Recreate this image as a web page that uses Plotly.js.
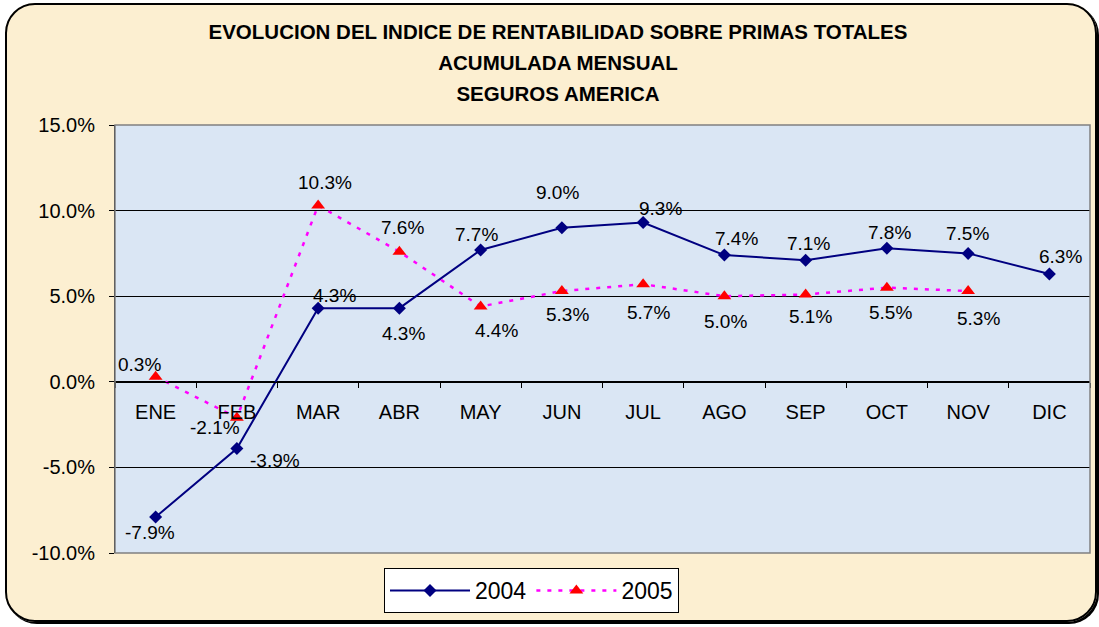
<!DOCTYPE html>
<html><head><meta charset="utf-8">
<script src="https://cdn.plot.ly/plotly-3.0.1.min.js"></script>
<style>
html,body{margin:0;padding:0;background:#fff;}
#wrap{position:relative;width:1099px;height:627px;overflow:hidden;}
#chart{position:absolute;left:0;top:0;width:1099px;height:627px;}
#frame{position:absolute;left:5px;top:3px;width:1088px;height:615px;border:2px solid #000;border-radius:30px;box-shadow:2px 2px 0 0 #000, 0 0 0 60px #fff;pointer-events:none;}
</style></head>
<body>
<div id="wrap"><div id="chart"></div><div id="frame"></div></div>
<script>
// ---- data ----
var months = ['ENE','FEB','MAR','ABR','MAY','JUN','JUL','AGO','SEP','OCT','NOV','DIC'];
var months2005 = ['ENE','FEB','MAR','ABR','MAY','JUN','JUL','AGO','SEP','OCT','NOV'];
var values2004 = [-7.9, -3.9, 4.3, 4.3, 7.7, 9.0, 9.3, 7.4, 7.1, 7.8, 7.5, 6.3];
var values2005 = [0.3, -2.1, 10.3, 7.6, 4.4, 5.3, 5.7, 5.0, 5.1, 5.5, 5.3];
var seriesNames = ['2004', '2005'];
var titleLines = ['EVOLUCION DEL INDICE DE RENTABILIDAD SOBRE PRIMAS TOTALES', 'ACUMULADA MENSUAL', 'SEGUROS AMERICA'];
var yTicks = [-10, -5, 0, 5, 10, 15];

// ---- label offsets (style, px; dy positive = down) ----
var off2004 = [[-6,15],[38,12],[16,-13],[4,25],[-4,-15],[-4,-35],[17,-14],[12,-17],[3,-17],[3,-16],[-1,-20],[11,-17]];
var off2005 = [[-16,-12],[-22,10],[7,-23],[3,-24],[16,24],[6,23],[5,28],[1,25],[5,22],[4,25],[10,27]];

var FONT = 'Liberation Sans, Arial, sans-serif';

var traces = [
  {x: months, y: values2004, name: seriesNames[0], type: 'scatter', mode: 'lines+markers',
   line: {color: '#000080', width: 2}, marker: {symbol: 'diamond', size: 10, color: '#000080'}},
  {x: months2005, y: values2005, name: seriesNames[1], type: 'scatter', mode: 'lines+markers',
   line: {color: '#ff00ff', width: 2.5, dash: '4px,7px'}, marker: {symbol: 'triangle-up', size: 12, color: '#ff0000'}}
];

var annotations = [];
function addLabels(xs, ys, offs) {
  for (var i = 0; i < xs.length; i++) {
    annotations.push({x: xs[i], y: ys[i], xref: 'x', yref: 'y', text: ys[i].toFixed(1) + '%',
      showarrow: false, xshift: offs[i][0], yshift: -offs[i][1],
      font: {family: FONT, size: 19, color: '#000'}});
  }
}
addLabels(months, values2004, off2004);
addLabels(months2005, values2005, off2005);

var layout = {
  width: 1099, height: 627,
  margin: {l: 115, r: 9, t: 125, b: 74},
  paper_bgcolor: '#fcefd1',
  plot_bgcolor: '#dae6f4',
  font: {family: FONT, color: '#000'},
  title: {
    text: titleLines.map(function(s){return '<span style="font-size:20.5px">' + s + '</span>';}).join('<br>'),
    font: {family: FONT, size: 24, weight: 'bold', color: '#000'},
    x: 558/1099, xref: 'container', xanchor: 'center',
    y: 1 - 39/627, yref: 'container', yanchor: 'top'
  },
  xaxis: {
    type: 'category', range: [-0.5, 11.5], anchor: 'free', position: 0.4,
    showline: true, linecolor: '#000', linewidth: 1,
    ticks: 'outside', tickson: 'boundaries', ticklen: 5, tickcolor: '#000',
    ticklabelstandoff: 12,
    tickfont: {family: FONT, size: 20, color: '#000'},
    showgrid: false, zeroline: false, fixedrange: true
  },
  yaxis: {
    range: [-10, 15], tickvals: yTicks, ticktext: yTicks.map(function(v){return v.toFixed(1) + '%';}),
    showline: true, linecolor: '#000', linewidth: 1,
    ticks: 'outside', ticklen: 5, tickcolor: '#000',
    ticklabelstandoff: 10,
    tickfont: {family: FONT, size: 20, color: '#000'},
    showgrid: true, gridcolor: '#000', gridwidth: 1,
    zeroline: false, fixedrange: true
  },
  shapes: [
    {type: 'rect', xref: 'paper', yref: 'paper', x0: 0, x1: 1, y0: 0, y1: 1,
     line: {color: '#808080', width: 1.5}, fillcolor: 'rgba(0,0,0,0)', layer: 'above'}
  ],
  showlegend: true,
  legend: {
    orientation: 'h', x: (531.5-115)/975, xanchor: 'center', y: (553-568)/428, yanchor: 'top',
    bgcolor: '#ffffff', bordercolor: '#000', borderwidth: 1,
    font: {family: FONT, size: 23, color: '#000'}, itemwidth: 80
  },
  annotations: annotations
};

Plotly.newPlot('chart', traces, layout, {staticPlot: true, displayModeBar: false});
</script>
</body></html>
